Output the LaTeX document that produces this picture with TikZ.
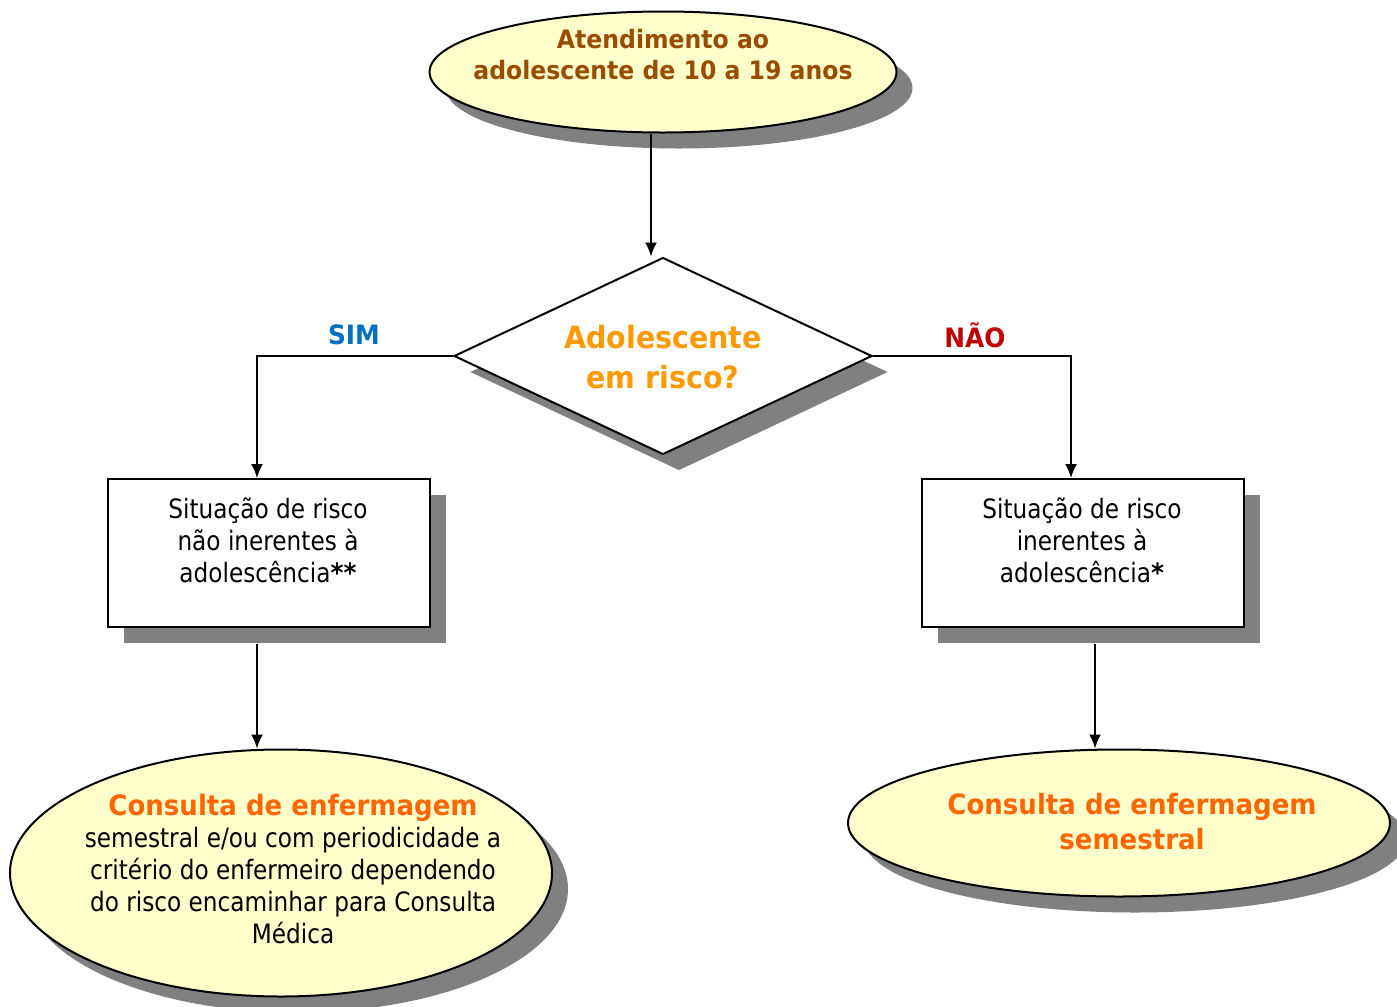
\documentclass[tikz,border=0pt]{standalone}
\usepackage{fontspec}
\setmainfont{DejaVu Sans}[UprightFeatures={FakeStretch=0.87},BoldFeatures={FakeStretch=0.93}]
\usetikzlibrary{shapes.geometric,shadows,arrows.meta}
\definecolor{amarelo}{HTML}{FFFFCC}
\definecolor{sombracinza}{HTML}{808080}
\definecolor{marrom}{RGB}{153,76,0}
\definecolor{laranja}{HTML}{FF9900}
\definecolor{laranjaesc}{HTML}{FF6600}
\definecolor{azulsim}{HTML}{0070C0}
\definecolor{vermnao}{HTML}{C00000}

\begin{document}
\begin{tikzpicture}[x=0.75pt,y=-0.75pt,
    sombra/.style={drop shadow={shadow xshift=12pt,shadow yshift=-12pt,fill=sombracinza,opacity=1}},
    elipse/.style={ellipse,draw,line width=1.5pt,fill=amarelo,inner sep=0pt,sombra},
    caixa/.style={rectangle,draw,line width=1.5pt,fill=white,inner sep=0pt,sombra},
    losango/.style={diamond,draw,line width=1.5pt,fill=white,inner sep=0pt,sombra},
    seta/.style={-{Latex[length=10.5pt,width=9pt]},line width=1.5pt},
    texto/.style={align=center,font=\fontsize{20}{24}\selectfont}]
  \useasboundingbox (0,0) rectangle (1397,1007);

  % Inicio
  \node[elipse,minimum width=350.25pt,minimum height=90.75pt] (inicio) at (663,72) {};
  \node[texto,text=marrom,font=\fontsize{19}{23.3}\selectfont\bfseries] (inicioTxt) at (663,55)
    {Atendimento ao\\adolescente de 10 a 19 anos};

  % Decisao
  \node[losango,minimum width=313.5pt,minimum height=147.75pt] (risco) at (663,356) {};
  \node[texto,text=laranja,font=\fontsize{23}{30}\selectfont\bfseries] (riscoTxt) at (663,357)
    {Adolescente\\em risco?};
  \node[text=azulsim,font=\fontsize{20}{24}\selectfont\bfseries] (sim) at (354,335) {SIM};
  \node[text=vermnao,font=\fontsize{20}{24}\selectfont\bfseries] (nao) at (975,335) {NÃO};

  % Situacoes
  \node[caixa,minimum width=241.5pt,minimum height=111pt] (sitA) at (269,553) {};
  \node[texto] (sitAtxt) at (268,540) {Situação de risco\\não inerentes à\\adolescência\textbf{**}};
  \node[caixa,minimum width=241.5pt,minimum height=111pt] (sitB) at (1082.5,553) {};
  \node[texto] (sitBtxt) at (1082,540) {Situação de risco\\inerentes à\\adolescência\textbf{*}};

  % Consultas
  \node[elipse,minimum width=406.5pt,minimum height=185.25pt] (consA) at (281,873) {};
  \node[texto] (consAtxt) at (293,869)
    {{\fontsize{21}{25.5}\selectfont\bfseries\color{laranjaesc}Consulta de enfermagem}\\
     semestral e/ou com periodicidade a\\critério do enfermeiro dependendo\\
     do risco encaminhar para Consulta\\Médica};
  \node[elipse,minimum width=406.5pt,minimum height=110.25pt] (consB) at (1119,823) {};
  \node[texto,text=laranjaesc,font=\fontsize{21}{26.3}\selectfont\bfseries] (consBtxt) at (1132,821.5)
    {Consulta de enfermagem\\semestral};

  % Ligacoes
  \draw[seta] ([xshift=-9pt]inicio.south) -- ([xshift=-9pt]risco.north);
  \draw[seta] (risco.west) -| ([xshift=-9pt]sitA.north);
  \draw[seta] (risco.east) -| ([xshift=-8.6pt]sitB.north);
  \draw[seta] ([shift={(-9pt,-12pt)}]sitA.south) -- ([xshift=-9pt]sitA.south |- consA.north);
  \draw[seta] ([shift={(9.4pt,-12pt)}]sitB.south) -- ([xshift=9.4pt]sitB.south |- consB.north);
\end{tikzpicture}
\end{document}
